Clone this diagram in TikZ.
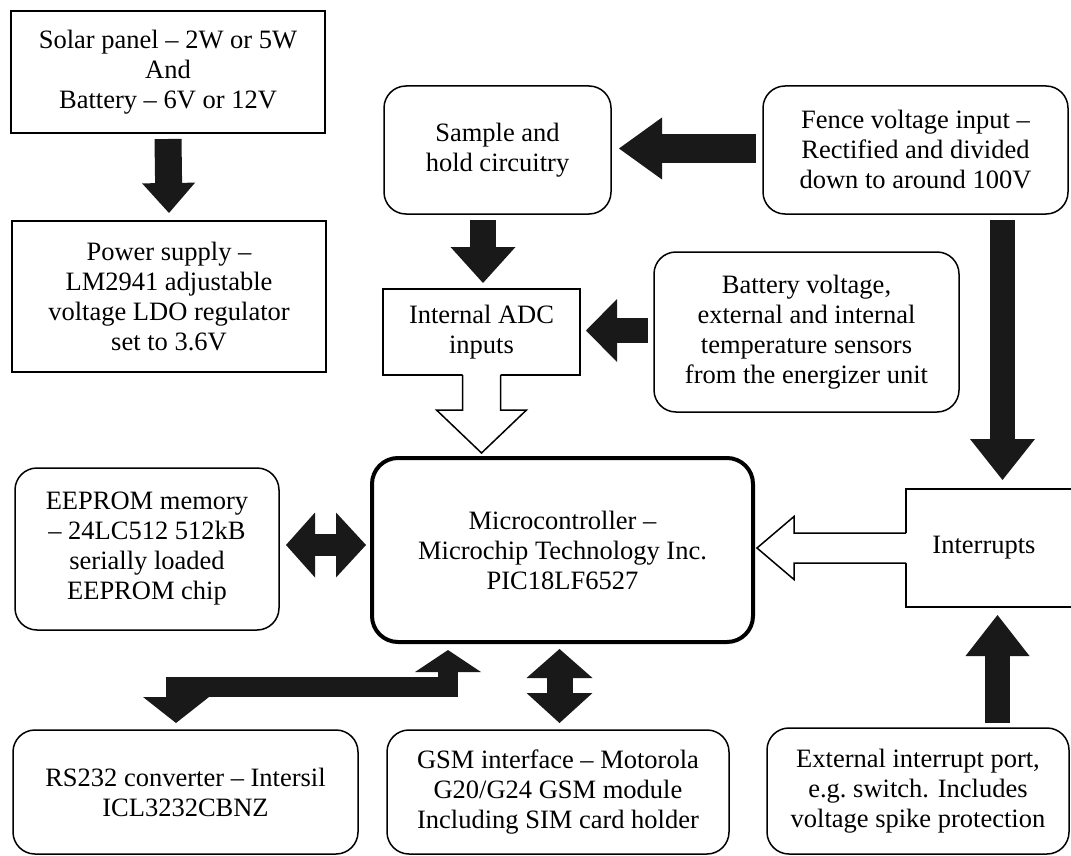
\documentclass[tikz,border=0pt]{standalone}
\usepackage{fontspec}
\setmainfont{Liberation Serif}
\usetikzlibrary{arrows.meta,calc}
\newcommand{\dfont}{\fontsize{13.25pt}{15pt}\selectfont}
\colorlet{arrowfill}{black!90}
\tikzset{
  box/.style={draw, line width=0.75pt, inner sep=0pt, outer sep=0pt, align=center, font=\dfont},
  rbox/.style={box, rounded corners=11pt},
  barrow/.style n args={3}{draw=arrowfill, line width=#1, line join=miter,
    -{Triangle[length=#3, width=#2, line width=0pt, fill=arrowfill]}},
  dbarrow/.style n args={4}{draw=arrowfill, line width=#1, line join=miter,
    {Triangle[length=#3, width=#2, line width=0pt, fill=arrowfill]}-{Triangle[length=#4, width=#2, line width=0pt, fill=arrowfill]}},
  hollow/.style={draw=black, line width=0.75pt, line join=miter},
}
\begin{document}
\begin{tikzpicture}[x=0.5pt,y=-0.5pt]
\fill[white] (0,0) rectangle (1071,856);
\clip (0,0) rectangle (1071,856);

% boxes
\node[box, minimum width=157pt, minimum height=61pt] (solar) at (168,72)
  {Solar panel -- 2W or 5W\\And\\Battery -- 6V or 12V};
\node[box, minimum width=157pt, minimum height=75.5pt] (power) at (169,296.5)
  {Power supply --\\LM2941 adjustable\\voltage LDO regulator\\set to 3.6V};
\node[rbox, minimum width=113.5pt, minimum height=64pt] (sample) at (497.5,150)
  {Sample and\\hold circuitry};
\node[rbox, minimum width=152.5pt, minimum height=64pt] (fence) at (915.5,150)
  {Fence voltage input --\\Rectified and divided\\down to around 100V};
\node[box, minimum width=98.5pt, minimum height=43pt] (adc) at (481.5,332)
  {Internal ADC\\inputs};
\node[rbox, minimum width=152.5pt, minimum height=80pt] (battery) at (806.5,332)
  {Battery voltage,\\external and internal\\temperature sensors\\from the energizer unit};
\node[rbox, minimum width=132pt, minimum height=81pt] (eeprom) at (147,549)
  {EEPROM memory\\-- 24LC512 512kB\\serially loaded\\EEPROM chip};
\node[box, line width=2pt, rounded corners=13pt, minimum width=190.5pt, minimum height=92pt] (micro) at (562.5,550)
  {Microcontroller --\\Microchip Technology Inc.\\PIC18LF6527};
\node[box, draw=none, minimum width=78pt, minimum height=59pt] (intr) at (984,548)
  {Interrupts};
\draw[line width=0.75pt] ($(intr.north east)+(30,0)$) -- (intr.north west)
  -- (intr.south west) -- ($(intr.south east)+(30,0)$);
\node[rbox, minimum width=172.5pt, minimum height=62pt] (rs) at (185.5,792)
  {RS232 converter -- Intersil\\ICL3232CBNZ};
\node[rbox, minimum width=171pt, minimum height=62pt] (gsm) at (558,792)
  {GSM interface -- Motorola\\G20/G24 GSM module\\Including SIM card holder};
\node[rbox, minimum width=151pt, minimum height=63pt] (ext) at (918,791)
  {External interrupt port,\\e.g.\ switch. Includes\\voltage spike protection};

% black block arrows
\draw[barrow={13.5pt}{26.5pt}{15pt}] ($(solar.south)+(0,6)$) -- ($(power.north)+(0,-8)$);
\draw[barrow={14.5pt}{31pt}{21.5pt}] ($(fence.west)+(-7,-1.5)$) -- ($(sample.east)+(8,-1.5)$);
\coordinate (s3) at ($(adc.north |- sample.south)+(1.5,6)$);
\draw[barrow={13pt}{32.5pt}{18pt}] (s3) -- ($(s3 |- adc.north)+(0,-6)$);
\draw[barrow={12.5pt}{31.5pt}{15.5pt}] ($(battery.west)+(-6,-1.5)$) -- ($(adc.east)+(6,-1.5)$);
\coordinate (f5) at ($(fence.south)+(87,6)$);
\draw[barrow={12.5pt}{32.5pt}{20.5pt}] (f5) -- ($(f5 |- intr.north)+(0,-9)$);
\coordinate (e6) at ($(ext.north)+(79.5,-5)$);
\draw[barrow={12.5pt}{32pt}{20.5pt}] (e6) -- ($(e6 |- intr.south)+(0,8)$);
\coordinate (m7) at ($(eeprom.east)+(7,-4)$);
\draw[dbarrow={11pt}{32.5pt}{14.5pt}{15pt}] (m7) -- ($(m7 -| micro.west)+(-6,0)$);
\coordinate (g8) at ($(gsm.north)+(1.5,-7)$);
\draw[dbarrow={13pt}{33pt}{14.5pt}{15pt}] ($(g8 |- micro.south)+(0,7)$) -- (g8);
\coordinate (l1) at ($(micro.south)+(-114.5,8)$);
\coordinate (l2) at ($(rs.north)+(-9.5,-7)$);
\draw[dbarrow={10pt}{33pt}{11pt}{13pt}] (l1) |- ($(l2)+(0,-36)$) -- (l2);

% hollow arrows
\fill[white] ($(adc.south)+(-19,-2)$) -- ++(0,37) -- ++(-26,0) -- ++(45,43)
  -- ++(45,-43) -- ++(-26,0) -- ++(0,-37) -- cycle;
\draw[hollow] ($(adc.south)+(-19,0)$) -- ++(0,35) -- ++(-26,0) -- ++(45,43)
  -- ++(45,-43) -- ++(-26,0) -- ++(0,-35);
\fill[white] ($(intr.west)+(2,-15)$) -- ++(-114,0) -- ++(0,-16.5) -- ++(-37,31.5)
  -- ++(37,31.5) -- ++(0,-16.5) -- ++(114,0) -- cycle;
\draw[hollow] ($(intr.west)+(0,-15)$) -- ++(-112,0) -- ++(0,-16.5) -- ++(-37,31.5)
  -- ++(37,31.5) -- ++(0,-16.5) -- ++(112,0);
\end{tikzpicture}
\end{document}
